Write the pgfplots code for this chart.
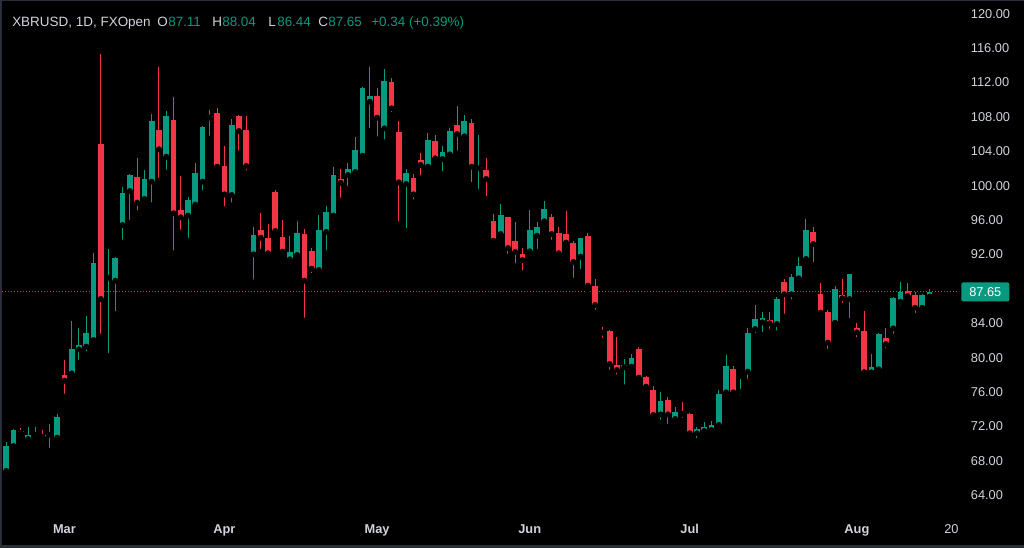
\documentclass[border=0pt]{standalone}
\usepackage{fontspec}
\setmainfont{Liberation Sans}
\usepackage{pgfplots}
\usepackage{pgfplotstable}
\pgfplotsset{compat=1.18}
\definecolor{tvgreen}{HTML}{089981}
\definecolor{tvred}{HTML}{F23645}
\definecolor{tvtext}{HTML}{D1D4DC}
\definecolor{framec}{HTML}{2A2E39}

\pgfplotstableread{
i O H L C
0 66.83 70.16 66.80 69.73
1 69.73 71.70 69.65 71.59
3 70.54 71.98 70.35 71.01
4 71.05 71.90 70.50 71.12
6 71.03 72.30 69.20 71.12
7 70.70 73.45 70.35 73.06
9 78.18 84.27 77.80 81.05
10 80.97 83.42 79.42 81.48
11 81.29 84.85 80.43 82.83
12 82.06 92.14 81.79 91.05
14 89.27 92.60 80.20 89.38
15 88.96 91.67 85.08 91.63
16 95.43 99.81 93.38 99.11
17 99.38 101.32 95.70 101.20
19 98.45 101.83 98.34 100.78
20 100.47 108.34 97.72 107.52
22 103.37 108.67 101.52 108.09
25 96.52 98.65 93.60 98.30
26 97.80 102.60 97.17 101.52
27 100.47 106.94 99.11 106.86
28 107.91 108.80 105.47 108.06
31 98.92 107.76 97.72 107.06
34 92.02 95.16 88.76 94.27
39 91.44 94.15 91.28 92.29
40 91.94 95.93 91.75 94.46
43 90.20 96.59 90.00 94.85
44 94.62 97.68 92.21 96.98
45 96.52 102.21 96.45 101.24
47 101.24 102.68 99.62 101.94
48 101.59 105.66 101.51 104.11
49 103.49 111.51 102.87 111.40
50 109.77 113.84 106.36 110.43
52 106.67 113.57 105.04 112.21
55 100.20 101.90 94.73 101.51
58 102.21 106.16 102.14 105.31
60 103.10 104.66 101.36 103.96
61 103.64 106.74 103.49 106.36
63 105.74 108.22 105.66 107.52
65 102.02 105.89 99.30 102.14
68 94.38 97.87 94.30 96.63
72 92.37 97.17 92.14 94.85
73 94.19 95.74 92.33 95.23
74 95.86 98.26 95.80 97.25
79 91.75 93.95 90.00 93.88
85 78.88 79.81 76.55 79.11
86 78.96 80.43 78.57 79.93
90 73.41 76.05 72.45 74.97
92 72.87 74.23 72.56 73.64
95 71.21 71.98 70.32 71.67
96 71.48 72.48 71.40 71.98
97 71.59 72.68 71.09 72.18
98 72.18 76.24 72.10 75.78
99 75.97 80.31 75.35 79.07
101 76.05 77.52 75.28 76.17
102 78.38 83.49 77.21 82.83
103 83.34 86.13 82.56 84.46
104 84.11 85.35 82.64 84.65
106 83.92 87.09 82.83 86.83
108 87.37 89.73 86.44 89.42
109 89.23 91.74 89.15 90.66
110 91.48 96.13 91.24 94.85
114 84.07 88.38 84.00 87.95
116 86.82 89.73 84.27 89.73
119 78.30 80.39 77.80 78.95
120 78.64 82.91 78.64 82.75
122 83.41 87.02 82.45 86.90
123 86.51 88.84 85.74 87.67
126 85.81 87.40 85.24 87.29
127 87.11 88.04 86.44 87.65
}\greendata

\pgfplotstableread{
i O H L C
2 71.48 71.87 70.74 71.28
5 71.00 71.60 70.30 70.81
8 77.99 79.73 75.47 77.33
13 104.81 115.31 82.45 86.83
18 100.97 103.26 96.79 98.03
21 106.48 113.84 100.59 104.23
23 107.64 110.31 92.13 96.79
24 97.17 101.17 94.54 96.32
29 108.41 109.03 101.63 102.21
30 102.29 104.62 97.25 98.99
32 108.10 108.18 103.76 106.36
33 106.48 108.10 101.44 102.29
35 94.85 96.86 92.29 93.95
36 93.88 95.55 91.94 92.14
37 99.27 99.54 94.46 94.73
38 94.03 96.01 91.83 92.33
41 94.38 94.96 84.31 88.96
42 92.41 92.72 89.50 90.35
46 100.78 101.94 98.26 100.35
51 110.43 111.36 105.39 107.91
53 112.02 112.56 108.22 109.00
54 106.20 107.52 95.50 100.39
56 100.86 101.32 98.06 98.99
57 102.95 103.76 100.86 102.41
59 105.19 105.89 103.06 103.18
62 107.06 109.27 103.76 106.01
64 107.29 107.75 100.08 102.21
66 101.78 103.18 98.45 100.78
67 95.89 96.71 93.30 93.60
69 96.32 96.40 91.75 92.75
70 93.53 95.78 90.66 92.29
71 92.06 92.76 89.81 91.36
75 96.32 96.71 93.38 94.38
76 94.54 95.16 91.94 92.14
77 94.38 97.02 92.76 93.38
78 93.38 93.60 88.96 91.13
80 94.15 94.54 87.87 88.38
81 88.33 89.11 85.24 86.13
82 83.14 83.53 81.98 82.91
83 83.10 83.20 78.26 79.26
84 79.15 82.44 77.72 78.57
87 80.97 81.21 77.02 77.68
88 77.79 77.87 76.24 76.63
89 76.24 76.75 73.26 73.34
91 75.08 75.47 71.98 73.41
93 73.57 74.81 72.68 73.45
94 73.41 73.53 71.09 71.21
100 78.69 79.00 75.59 75.97
105 84.38 85.28 83.03 83.99
107 88.76 89.15 84.77 87.37
111 94.58 95.16 90.78 93.22
112 87.37 88.64 84.69 85.24
113 85.36 85.55 80.70 81.75
115 87.29 89.11 86.01 86.90
117 83.41 84.07 82.06 82.95
118 83.10 85.47 78.30 78.30
121 82.33 83.49 80.82 81.59
124 87.76 88.64 86.83 87.17
125 87.29 87.67 84.89 85.81
}\reddata

\begin{document}
\begin{tikzpicture}
\useasboundingbox (0,0) rectangle (768pt,411pt);
\fill[framec] (0,0) rectangle (768pt,411pt);
\fill[black] (1.5pt,2.25pt) rectangle (768pt,410.25pt);
\begin{axis}[
  at={(1.5pt,24.75pt)}, anchor=south west,
  scale only axis, width=717pt, height=384.75pt,
  xmin=-0.591, xmax=130.91, ymin=61.709, ymax=121.36,
  clip=false,
  axis line style={draw=none},
  major tick length=0pt,
  tick style={draw=none},
  ytick={64,68,72,76,80,84,92,96,100,104,108,112,116,120},
  yticklabel pos=right,
  yticklabel style={anchor=west, inner sep=0pt, xshift=9.5pt, font=\fontsize{9.6pt}{11pt}\selectfont, text=tvtext},
  /pgf/number format/.cd, fixed, fixed zerofill, precision=2, assume math mode=true, 1000 sep={},
  /pgfplots/.cd,
  xtick={8,30,51,72,94,117,130},
  xticklabels={\textbf{Mar},\textbf{Apr},\textbf{May},\textbf{Jun},\textbf{Jul},\textbf{Aug},20},
  xticklabel style={anchor=base, inner sep=0pt, yshift=-14.2pt, font=\fontsize{9.6pt}{11pt}\selectfont, text=tvtext},
]
\addplot[tvgreen, line width=0.75pt, dash pattern=on 0.75pt off 1.5pt] coordinates {(-0.591,87.65) (130.91,87.65)};
% wicks
\addplot[only marks, mark=none, error bars/.cd, y dir=plus, y explicit, error mark=none,
  error bar style={line width=0.75pt, draw=tvgreen}]
  table[x=i, y=L, y error plus expr={\thisrow{H}-\thisrow{L}}] {\greendata};
\addplot[only marks, mark=none, error bars/.cd, y dir=plus, y explicit, error mark=none,
  error bar style={line width=0.75pt, draw=tvred}]
  table[x=i, y=L, y error plus expr={\thisrow{H}-\thisrow{L}}] {\reddata};
% bodies
\addplot[only marks, mark=none, error bars/.cd, y dir=plus, y explicit, error mark=none,
  error bar style={line width=4.3pt, draw=tvgreen}]
  table[x=i, y=O, y error plus expr={max(\thisrow{C}-\thisrow{O},0.13)}] {\greendata};
\addplot[only marks, mark=none, error bars/.cd, y dir=plus, y explicit, error mark=none,
  error bar style={line width=4.3pt, draw=tvred}]
  table[x=i, y=C, y error plus expr={max(\thisrow{O}-\thisrow{C},0.13)}] {\reddata};
\node[fill=tvgreen, text=white, rounded corners=1.5pt, anchor=west, inner xsep=6pt, inner ysep=0pt,
  minimum height=14.25pt, font=\fontsize{9.6pt}{11pt}\selectfont, xshift=2.25pt]
  at (axis cs:130.91,87.65) {87.65};
\end{axis}
\begin{scope}[every node/.style={anchor=base west, inner sep=0pt, font=\fontsize{10.1pt}{11pt}\selectfont}]
\node[text=tvtext] at (9pt,391.1pt) {XBRUSD, 1D, FXOpen};
\node[text=tvtext] at (117.75pt,391.1pt) {O};
\node[text=tvgreen] at (126pt,391.1pt) {87.11};
\node[text=tvtext] at (159pt,391.1pt) {H};
\node[text=tvgreen] at (166.5pt,391.1pt) {88.04};
\node[text=tvtext] at (201pt,391.1pt) {L};
\node[text=tvgreen] at (207.75pt,391.1pt) {86.44};
\node[text=tvtext] at (238.5pt,391.1pt) {C};
\node[text=tvgreen] at (246pt,391.1pt) {87.65};
\node[text=tvgreen] at (278.25pt,391.1pt) {+0.34 (+0.39\%)};
\end{scope}
\end{tikzpicture}
\end{document}
